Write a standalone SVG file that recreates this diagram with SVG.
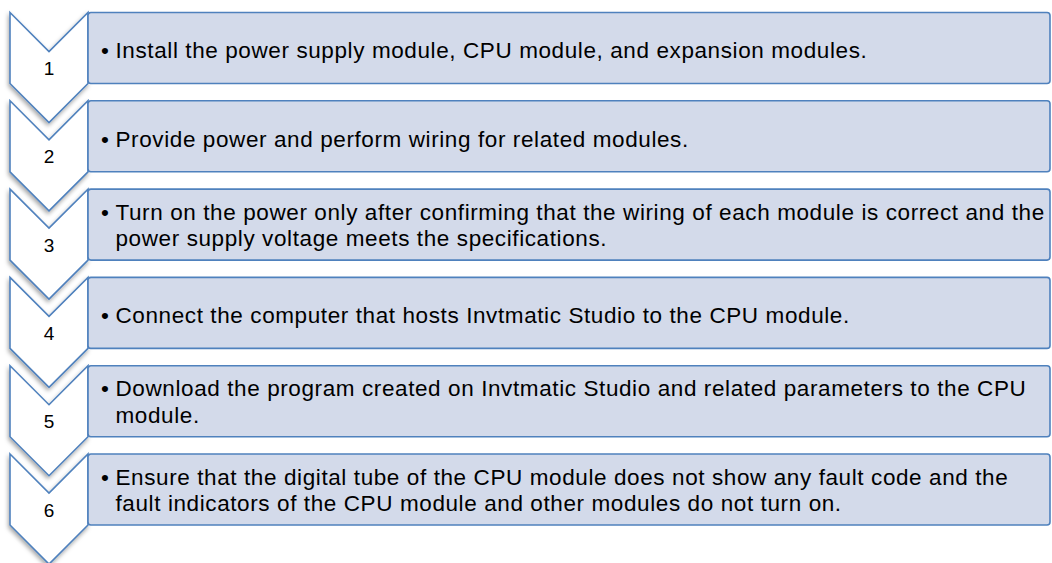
<svg xmlns="http://www.w3.org/2000/svg" width="1052" height="563" viewBox="0 0 1052 563">
  <defs>
    <filter id="shadow" x="-30%" y="-20%" width="160%" height="150%">
      <feDropShadow dx="-1" dy="2.5" stdDeviation="2" flood-color="#000" flood-opacity="0.35"/>
    </filter>
    <path id="chev" d="M10,0 L49,39 L88,0 L88,71 L49,110 L10,71 Z"/>
  </defs>
  <style>
    .chev { fill: #ffffff; stroke: #4F81BD; stroke-width: 1.6; stroke-linejoin: miter; filter: url(#shadow); }
    .box { fill: #D3DAEA; stroke: #4F81BD; stroke-width: 1.6; }
    .num { font-family: "Liberation Sans", Arial, sans-serif; font-size: 19px; fill: #000; text-anchor: middle; }
    .txt { font-family: "Liberation Sans", Arial, sans-serif; font-size: 22.5px; letter-spacing: 0.6px; fill: #000; }
  </style>
  <rect width="1052" height="563" fill="#ffffff"/>

  <g id="step1" transform="translate(0,12.5)">
    <use href="#chev" class="chev"/>
    <text class="num" x="49" y="62.5">1</text>
    <rect class="box" x="88" y="0" width="962" height="71" rx="3"/>
    <text class="txt" x="101" y="45.8">•</text>
    <text class="txt" x="115.5" y="45.8">Install the power supply module, CPU module, and expansion modules.</text>
  </g>

  <g id="step2" transform="translate(0,100.8)">
    <use href="#chev" class="chev"/>
    <text class="num" x="49" y="62.5">2</text>
    <rect class="box" x="88" y="0" width="962" height="71" rx="3"/>
    <text class="txt" x="101" y="45.8">•</text>
    <text class="txt" x="115.5" y="45.8">Provide power and perform wiring for related modules.</text>
  </g>

  <g id="step3" transform="translate(0,189.1)">
    <use href="#chev" class="chev"/>
    <text class="num" x="49" y="62.5">3</text>
    <rect class="box" x="88" y="0" width="962" height="71" rx="3"/>
    <text class="txt" x="101" y="30.5">•</text>
    <text class="txt" x="115.5" y="30.5">Turn on the power only after confirming that the wiring of each module is correct and the</text>
    <text class="txt" x="115.5" y="57">power supply voltage meets the specifications.</text>
  </g>

  <g id="step4" transform="translate(0,277.4)">
    <use href="#chev" class="chev"/>
    <text class="num" x="49" y="62.5">4</text>
    <rect class="box" x="88" y="0" width="962" height="71" rx="3"/>
    <text class="txt" x="101" y="45.8">•</text>
    <text class="txt" x="115.5" y="45.8">Connect the computer that hosts Invtmatic Studio to the CPU module.</text>
  </g>

  <g id="step5" transform="translate(0,365.7)">
    <use href="#chev" class="chev"/>
    <text class="num" x="49" y="62.5">5</text>
    <rect class="box" x="88" y="0" width="962" height="71" rx="3"/>
    <text class="txt" x="101" y="30.5">•</text>
    <text class="txt" x="115.5" y="30.5">Download the program created on Invtmatic Studio and related parameters to the CPU</text>
    <text class="txt" x="115.5" y="57">module.</text>
  </g>

  <g id="step6" transform="translate(0,454)">
    <use href="#chev" class="chev"/>
    <text class="num" x="49" y="62.5">6</text>
    <rect class="box" x="88" y="0" width="962" height="71" rx="3"/>
    <text class="txt" x="101" y="30.5">•</text>
    <text class="txt" x="115.5" y="30.5">Ensure that the digital tube of the CPU module does not show any fault code and the</text>
    <text class="txt" x="115.5" y="57">fault indicators of the CPU module and other modules do not turn on.</text>
  </g>
</svg>
